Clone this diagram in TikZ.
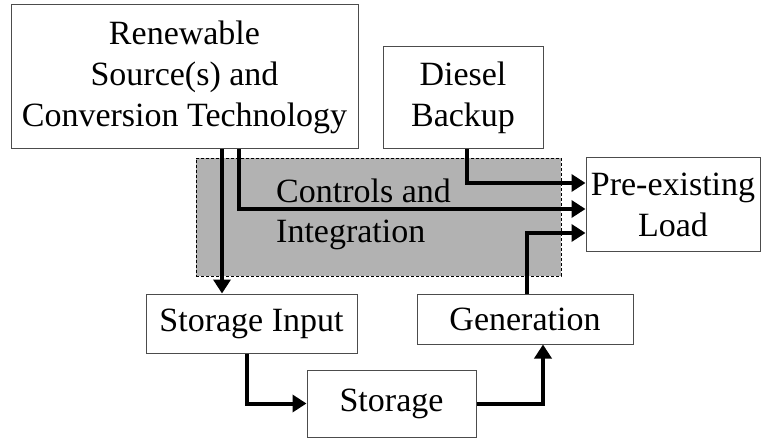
\documentclass[tikz,border=0pt]{standalone}
\usepackage{fontspec}
\setmainfont{Liberation Serif}
\usetikzlibrary{arrows.meta}
\tikzset{
  BoxStyle/.style = {draw=black!70, line width=1pt, fill=white, inner sep=0pt,
                     align=center, font=\fontsize{34}{41}\selectfont},
  ZoneStyle/.style = {draw=black, fill=black!30, line width=0.8pt,
                      dash pattern=on 3pt off 2pt, inner sep=0pt},
  LabelStyle/.style = {inner sep=0pt, align=left, font=\fontsize{34}{40}\selectfont},
  FlowStyle/.style = {black, line width=4pt, -{Triangle[length=14pt,width=17pt]}} }

\begin{document}
\begin{tikzpicture}[x=1pt, y=-1pt]
  \useasboundingbox (0,0) rectangle (762,438);
  \node[ZoneStyle, minimum width=365pt, minimum height=118pt] (Ctrl) at (378.5,217) {};
  \node[LabelStyle, anchor=west] (CtrlTxt) at (276,214) {Controls and\\Integration};
  \node[BoxStyle, minimum width=347pt, minimum height=144pt] (Ren) at (184.5,77)
    {Renewable\\Source(s) and\\Conversion Technology};
  \node[BoxStyle, minimum width=160pt, minimum height=102pt] (Dsl) at (463,98) {Diesel\\Backup};
  \node[BoxStyle, minimum width=174pt, minimum height=93pt] (Load) at (673,204.5) {Pre-existing\\Load};
  \node[BoxStyle, minimum width=211pt, minimum height=59pt] (SIn) at (251.5,323.5) {Storage Input};
  \node[BoxStyle, minimum width=216pt, minimum height=50pt] (Gen) at (525,319) {Generation};
  \node[BoxStyle, minimum width=169pt, minimum height=67pt] (Stor) at (391.5,403.5) {Storage};
  \draw[FlowStyle] ([xshift=37.5pt]Ren.south) -- ([xshift=37.5pt]Ren.south |- SIn.north);
  \draw[FlowStyle] ([xshift=54.5pt]Ren.south) |- ([yshift=-4.5pt]Load.west);
  \draw[FlowStyle] ([xshift=4pt]Dsl.south) |- ([yshift=21.5pt]Load.west);
  \draw[FlowStyle] ([xshift=2pt]Gen.north) |- ([yshift=-28.5pt]Load.west);
  \draw[FlowStyle] ([xshift=-4.5pt]SIn.south) |- (Stor.west);
  \draw[FlowStyle] (Stor.east) -| ([xshift=18pt]Gen.south);
\end{tikzpicture}
\end{document}
